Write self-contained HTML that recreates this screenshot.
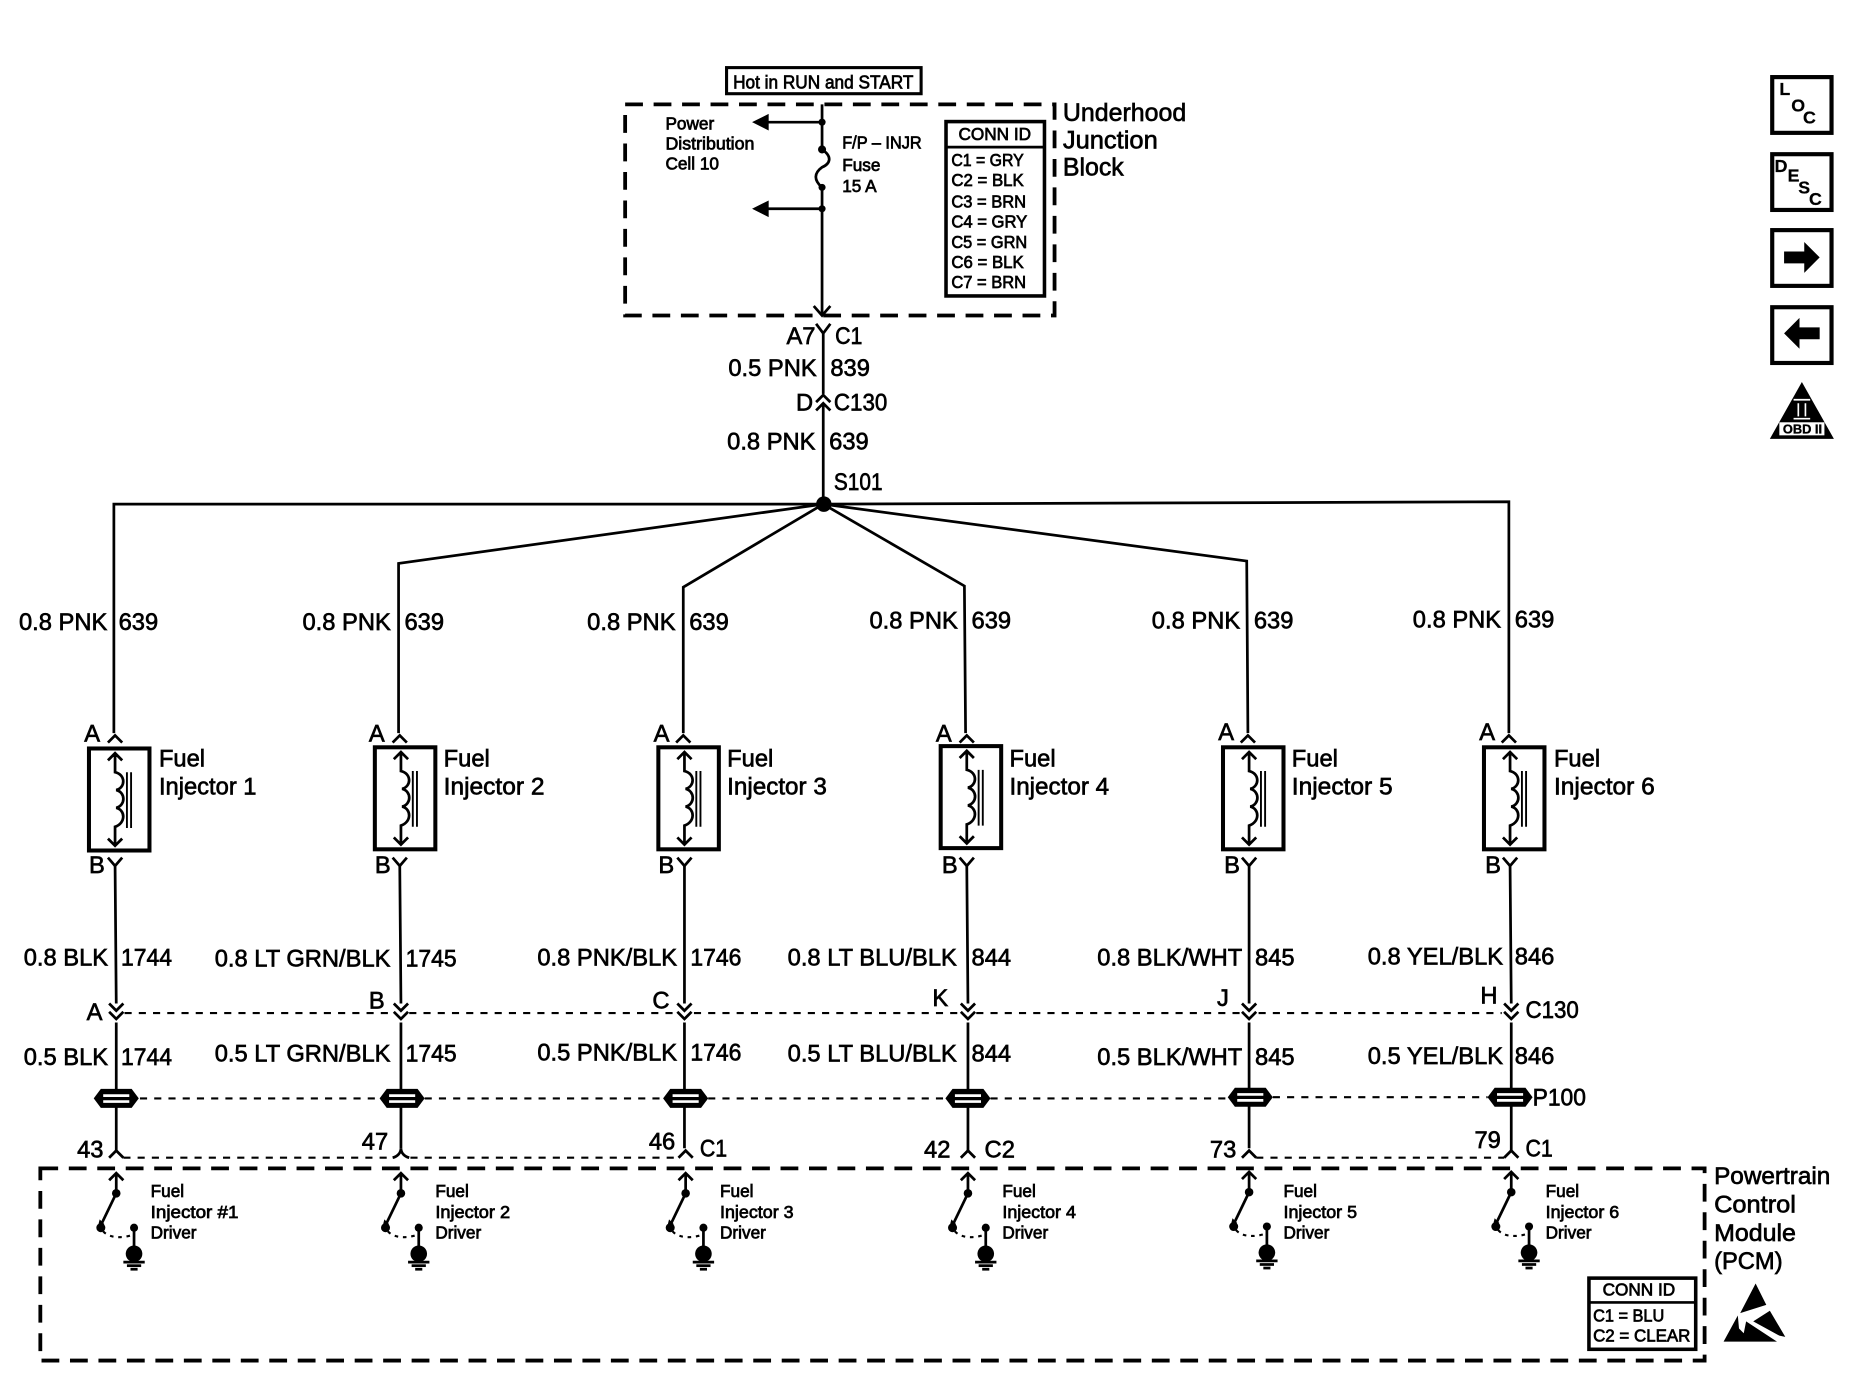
<!DOCTYPE html>
<html><head><meta charset="utf-8"><title>Fuel Injector Wiring</title>
<style>
html,body{margin:0;padding:0;background:#fff;width:1860px;height:1392px;overflow:hidden}
svg{display:block}
text{font-family:"Liberation Sans",sans-serif;fill:#000;stroke:#000;stroke-width:.55;font-size:20px}
.s{font-size:14.5px;stroke-width:.6}
.m{font-size:15.5px;stroke-width:.6}
.k{font-size:15px;font-weight:bold;stroke-width:.2}
.w{fill:none;stroke:#000;stroke-width:2.3}
.d{fill:none;stroke:#000;stroke-width:1.8;stroke-dasharray:6 6}
.b{fill:none;stroke:#000;stroke-width:3.2;stroke-dasharray:15 9}
</style></head><body>
<svg xmlns="http://www.w3.org/2000/svg" width="1860" height="1392" viewBox="0 0 1568 1173.5" preserveAspectRatio="none">
<rect width="1568" height="1174" fill="#fff"/>
<defs>
<g id="inj">
<rect x="0" y="0" width="51" height="86" fill="#fff" stroke="#000" stroke-width="3.4"/>
<path class="w" d="M22 4V20C31 22 31 33 23 35 31 37 31 48 23 50 31 52 31 63 22 66V82M16 10 22 4 28 10M16 76 22 82 28 76"/>
<path fill="none" stroke="#000" stroke-width="1.6" d="M32 20V67M35.500 20V67"/>
</g>
<path id="up" class="w" d="M-6 6 0 0 6 6"/>
<path id="yy" class="w" d="M-6 0 0 7 6 0"/>
<g id="p">
<path d="M-19 0-13-8H13L19 0 13 8H-13Z" fill="#000"/>
<path d="M-11-3.500H11V-1.200H-11ZM-11 1.500H11V3.800H-11Z" fill="#fff"/>
</g>
<g id="sw">
<path class="w" d="M0 18V3M-6 9 0 3 6 9"/>
<path class="w" d="M0 20-13 47"/>
<circle cx="0" cy="20" r="3.600"/>
<circle cx="-13" cy="49" r="3.800"/>
<path d="M-14 42-10 46-16 50Z"/>
<path fill="none" stroke="#000" stroke-width="1.800" stroke-dasharray="3 4" d="M-11 52C-6 58 5 58 14 55"/>
<circle cx="15" cy="49" r="3.400"/>
<path class="w" d="M15 50V68"/>
<circle cx="15" cy="71" r="7"/>
<path class="w" d="M6 78H24" stroke-width="1.500"/>
<path class="w" d="M9 81H21" stroke-width="1.500"/>
<path class="w" d="M12 84H18" stroke-width="1.500"/>
</g>
</defs>

<!-- top fuse section -->
<rect x="612.500" y="57" width="164" height="22" fill="none" stroke="#000" stroke-width="2.600"/>
<text x="618" y="74.500" class="m" textLength="152" lengthAdjust="spacingAndGlyphs">Hot in RUN and START</text>
<rect x="527" y="88" width="362" height="178" class="b"/>
<text x="896" y="102" textLength="104" style="font-size:21px" lengthAdjust="spacingAndGlyphs">Underhood</text>
<text x="896" y="125" textLength="80" style="font-size:21px" lengthAdjust="spacingAndGlyphs">Junction</text>
<text x="896" y="148" style="font-size:21px">Block</text>
<text x="561" y="109" class="s">Power</text>
<text x="561" y="126" class="s" textLength="75" lengthAdjust="spacingAndGlyphs">Distribution</text>
<text x="561" y="143" class="s">Cell 10</text>
<text x="710" y="125" class="s" textLength="67" lengthAdjust="spacingAndGlyphs">F/P – INJR</text>
<text x="710" y="144" class="s">Fuse</text>
<text x="710" y="162" class="s">15 A</text>
<rect x="797.500" y="102.500" width="83" height="147" fill="none" stroke="#000" stroke-width="3"/>
<path class="w" d="M798 124H880"/>
<text x="808" y="118" class="s">CONN ID</text>
<text x="802" y="140" class="s" textLength="61" lengthAdjust="spacingAndGlyphs">C1 = GRY</text>
<text x="802" y="157" class="s" textLength="61" lengthAdjust="spacingAndGlyphs">C2 = BLK</text>
<text x="802" y="175" class="s" textLength="63" lengthAdjust="spacingAndGlyphs">C3 = BRN</text>
<text x="802" y="192" class="s" textLength="64" lengthAdjust="spacingAndGlyphs">C4 = GRY</text>
<text x="802" y="209" class="s" textLength="64" lengthAdjust="spacingAndGlyphs">C5 = GRN</text>
<text x="802" y="226" class="s" textLength="61" lengthAdjust="spacingAndGlyphs">C6 = BLK</text>
<text x="802" y="243" class="s" textLength="63" lengthAdjust="spacingAndGlyphs">C7 = BRN</text>
<path class="w" d="M693 88V126C702 132 700 138 693 141 686 146 686 152 693 158V266M686 258 693 266 700 258"/>
<path class="w" d="M693 103H640M693 176H640"/>
<path d="M634 103 648 96V110ZM634 176 648 169V183Z"/>
<circle cx="693" cy="103" r="3"/><circle cx="693" cy="126" r="3.400"/><circle cx="693" cy="158" r="3"/><circle cx="693" cy="176" r="3"/>
<path class="w" d="M688 273 694 281 700 273M694 281V332M688 339 694 333 700 339M688 346 694 340 700 346M694 341V425"/>
<text x="663" y="290">A7</text><text x="704" y="290" textLength="23" lengthAdjust="spacingAndGlyphs">C1</text>
<text x="614" y="317">0.5 PNK</text><text x="700" y="317">839</text>
<text x="671" y="346">D</text><text x="703" y="346" textLength="45" lengthAdjust="spacingAndGlyphs">C130</text>
<text x="613" y="379">0.8 PNK</text><text x="699" y="379">639</text>
<text x="703" y="413" textLength="41" lengthAdjust="spacingAndGlyphs">S101</text>

<!-- distribution -->
<path class="w" d="M96 618V425H694L1272 423V618"/>
<path class="w" d="M336 618V475L694 425 1051 473 1052 618"/>
<path class="w" d="M576 618V495L694 425 813 494 814 618"/>
<circle cx="694.500" cy="425" r="6.500"/>

<!-- column 1 -->
<text x="16" y="531">0.8 PNK</text><text x="100" y="531">639</text>
<text x="71" y="625">A</text><use href="#up" x="97" y="620"/>
<use href="#inj" x="75" y="631"/>
<text x="134" y="646">Fuel</text><text x="134" y="670">Injector 1</text>
<text x="75" y="736">B</text><use href="#yy" x="97" y="723"/>
<path class="w" d="M97 729 98 846M98 862V970"/>
<text x="20" y="814">0.8 BLK</text><text x="102" y="814" textLength="43" lengthAdjust="spacingAndGlyphs">1744</text>
<path class="w" d="M92 846 98 852 104 846M92 853 98 859 104 853"/>
<text x="73" y="860">A</text>
<text x="20" y="898">0.5 BLK</text><text x="102" y="898" textLength="43" lengthAdjust="spacingAndGlyphs">1744</text>
<use href="#p" x="98" y="926"/>
<text x="65" y="976">43</text><use href="#up" x="98" y="970"/>
<use href="#sw" x="98" y="986"/>
<text x="127" y="1009" class="s">Fuel</text><text x="127" y="1027" class="s" textLength="74" lengthAdjust="spacingAndGlyphs">Injector  #1</text><text x="127" y="1044" class="s">Driver</text>

<!-- column 2 -->
<text x="255" y="531">0.8 PNK</text><text x="341" y="531">639</text>
<text x="311" y="625">A</text><use href="#up" x="337" y="620"/>
<use href="#inj" x="316" y="630"/>
<text x="374" y="646">Fuel</text><text x="374" y="670" textLength="85" lengthAdjust="spacingAndGlyphs">Injector 2</text>
<text x="316" y="736">B</text><use href="#yy" x="337" y="723"/>
<path class="w" d="M337 729 338 846M338 862V968"/>
<text x="181" y="815">0.8 LT GRN/BLK</text><text x="342" y="815" textLength="43" lengthAdjust="spacingAndGlyphs">1745</text>
<path class="w" d="M332 846 338 852 344 846M332 853 338 859 344 853"/>
<text x="311" y="850">B</text>
<text x="181" y="895">0.5 LT GRN/BLK</text><text x="342" y="895" textLength="43" lengthAdjust="spacingAndGlyphs">1745</text>
<use href="#p" x="339" y="926"/>
<text x="305" y="969">47</text><path class="w" d="M331 976C335 975 338 972 338 968 338 972 341 975 345 976"/>
<use href="#sw" x="338" y="986"/>
<text x="367" y="1009" class="s">Fuel</text><text x="367" y="1027" class="s" textLength="63" lengthAdjust="spacingAndGlyphs">Injector 2</text><text x="367" y="1044" class="s">Driver</text>

<!-- column 3 -->
<text x="495" y="531">0.8 PNK</text><text x="581" y="531">639</text>
<text x="551" y="625">A</text><use href="#up" x="576" y="620"/>
<use href="#inj" x="555" y="630"/>
<text x="613" y="646">Fuel</text><text x="613" y="670" textLength="84" lengthAdjust="spacingAndGlyphs">Injector 3</text>
<text x="555" y="736">B</text><use href="#yy" x="577" y="723"/>
<path class="w" d="M577 729V846M577 862V968"/>
<text x="453" y="814">0.8 PNK/BLK</text><text x="582" y="814" textLength="43" lengthAdjust="spacingAndGlyphs">1746</text>
<path class="w" d="M571 846 577 852 583 846M571 853 577 859 583 853"/>
<text x="550" y="850">C</text>
<text x="453" y="894">0.5 PNK/BLK</text><text x="582" y="894" textLength="43" lengthAdjust="spacingAndGlyphs">1746</text>
<use href="#p" x="578" y="926"/>
<text x="547" y="969">46</text><use href="#up" x="578" y="970"/><text x="590" y="975" textLength="23" lengthAdjust="spacingAndGlyphs">C1</text>
<use href="#sw" x="578" y="986"/>
<text x="607" y="1009" class="s">Fuel</text><text x="607" y="1027" class="s" textLength="62" lengthAdjust="spacingAndGlyphs">Injector 3</text><text x="607" y="1044" class="s">Driver</text>

<!-- column 4 -->
<text x="733" y="530">0.8 PNK</text><text x="819" y="530">639</text>
<text x="789" y="625">A</text><use href="#up" x="815" y="620"/>
<use href="#inj" x="793" y="629"/>
<text x="851" y="646">Fuel</text><text x="851" y="670" textLength="84" lengthAdjust="spacingAndGlyphs">Injector 4</text>
<text x="794" y="736">B</text><use href="#yy" x="815" y="723"/>
<path class="w" d="M815 729 816 846M816 862V970"/>
<text x="664" y="814">0.8 LT BLU/BLK</text><text x="819" y="814">844</text>
<path class="w" d="M810 846 816 852 822 846M810 853 816 859 822 853"/>
<text x="786" y="848">K</text>
<text x="664" y="895">0.5 LT BLU/BLK</text><text x="819" y="895">844</text>
<use href="#p" x="816" y="926"/>
<text x="779" y="976">42</text><use href="#up" x="816" y="970"/><text x="830" y="976">C2</text>
<use href="#sw" x="816" y="986"/>
<text x="845" y="1009" class="s">Fuel</text><text x="845" y="1027" class="s" textLength="62" lengthAdjust="spacingAndGlyphs">Injector 4</text><text x="845" y="1044" class="s">Driver</text>

<!-- column 5 -->
<text x="971" y="530">0.8 PNK</text><text x="1057" y="530">639</text>
<text x="1027" y="624">A</text><use href="#up" x="1052" y="620"/>
<use href="#inj" x="1031" y="630"/>
<text x="1089" y="646">Fuel</text><text x="1089" y="670" textLength="85" lengthAdjust="spacingAndGlyphs">Injector 5</text>
<text x="1032" y="736">B</text><use href="#yy" x="1053" y="723"/>
<path class="w" d="M1053 729V846M1053 862V968"/>
<text x="925" y="814">0.8 BLK/WHT</text><text x="1058" y="814">845</text>
<path class="w" d="M1047 846 1053 852 1059 846M1047 853 1053 859 1059 853"/>
<text x="1026" y="848">J</text>
<text x="925" y="898">0.5 BLK/WHT</text><text x="1058" y="898">845</text>
<use href="#p" x="1054" y="925"/>
<text x="1020" y="976">73</text><use href="#up" x="1053" y="970"/>
<use href="#sw" x="1053" y="985"/>
<text x="1082" y="1009" class="s">Fuel</text><text x="1082" y="1027" class="s" textLength="62" lengthAdjust="spacingAndGlyphs">Injector 5</text><text x="1082" y="1044" class="s">Driver</text>

<!-- column 6 -->
<text x="1191" y="529">0.8 PNK</text><text x="1277" y="529">639</text>
<text x="1247" y="624">A</text><use href="#up" x="1272" y="620"/>
<use href="#inj" x="1251" y="630"/>
<text x="1310" y="646">Fuel</text><text x="1310" y="670" textLength="85" lengthAdjust="spacingAndGlyphs">Injector 6</text>
<text x="1252" y="736">B</text><use href="#yy" x="1273" y="723"/>
<path class="w" d="M1273 729 1274 846M1274 862V970"/>
<text x="1153" y="813">0.8 YEL/BLK</text><text x="1277" y="813">846</text>
<path class="w" d="M1268 846 1274 852 1280 846M1268 853 1274 859 1280 853"/>
<text x="1248" y="846">H</text><text x="1286" y="858" textLength="45" lengthAdjust="spacingAndGlyphs">C130</text>
<text x="1153" y="897">0.5 YEL/BLK</text><text x="1277" y="897">846</text>
<use href="#p" x="1273" y="925"/>
<text x="1292" y="932" textLength="45" lengthAdjust="spacingAndGlyphs">P100</text>
<text x="1243" y="968">79</text><use href="#up" x="1274" y="970"/><text x="1286" y="975" textLength="23" lengthAdjust="spacingAndGlyphs">C1</text>
<use href="#sw" x="1274" y="985"/>
<text x="1303" y="1009" class="s">Fuel</text><text x="1303" y="1027" class="s" textLength="62" lengthAdjust="spacingAndGlyphs">Injector 6</text><text x="1303" y="1044" class="s">Driver</text>

<!-- dashed shields -->
<path class="d" d="M105 854H330M345 854H570M585 854H808M823 854H1046M1061 854H1266"/>
<path class="d" d="M118 926H320M358 926H560M597 926H797M835 926H1035M1073 925H1254"/>
<path class="d" d="M104 976H330M346 976H572M1059 976H1268"/>

<!-- PCM -->
<rect x="34" y="985" width="1403" height="162" class="b"/>
<text x="1445" y="998" textLength="98" lengthAdjust="spacingAndGlyphs">Powertrain</text>
<text x="1445" y="1022" textLength="69" lengthAdjust="spacingAndGlyphs">Control</text>
<text x="1445" y="1046" textLength="69" lengthAdjust="spacingAndGlyphs">Module</text>
<text x="1445" y="1070">(PCM)</text>
<rect x="1339.500" y="1077.500" width="90" height="60" fill="none" stroke="#000" stroke-width="3"/>
<path class="w" d="M1340 1098H1429"/>
<text x="1351" y="1092" class="s">CONN ID</text>
<text x="1343" y="1114" class="s" textLength="60" lengthAdjust="spacingAndGlyphs">C1 = BLU</text>
<text x="1343" y="1131" class="s" textLength="82" lengthAdjust="spacingAndGlyphs">C2 = CLEAR</text>
<path d="M1480 1082 1489 1100 1467 1107ZM1465 1109 1453 1131H1498L1472 1114 1470 1124 1466 1120ZM1492 1105 1505 1127 1500 1126 1478 1114Z"/>

<!-- right icons -->
<g fill="none" stroke="#000" stroke-width="3.500">
<rect x="1494" y="65" width="50" height="47"/>
<rect x="1494" y="130" width="50" height="47"/>
<rect x="1494" y="194" width="50" height="47"/>
<rect x="1494" y="259" width="50" height="47"/>
</g>
<text x="1500" y="80" class="k">L</text><text x="1510" y="94" class="k">O</text><text x="1520" y="104" class="k">C</text>
<text x="1496" y="145" class="k">D</text><text x="1507" y="153" class="k">E</text><text x="1516" y="163" class="k">S</text><text x="1525" y="173" class="k">C</text>
<path d="M1504 212H1521V204L1534 217 1521 230V222H1504ZM1534 276H1517V268L1504 281 1517 294V286H1534Z"/>
<path d="M1519 322 1546 370H1492Z"/>
<rect x="1500" y="356" width="38" height="11" fill="#fff"/>
<path d="M1516 340V351M1522 340V351M1512 337H1526M1512 353H1526" stroke="#fff" stroke-width="1.400" fill="none"/>
<text x="1503" y="365.500" style="font-size:10.500px;stroke-width:.3;font-weight:bold" textLength="33" lengthAdjust="spacingAndGlyphs">OBD II</text>
</svg>
</body></html>
